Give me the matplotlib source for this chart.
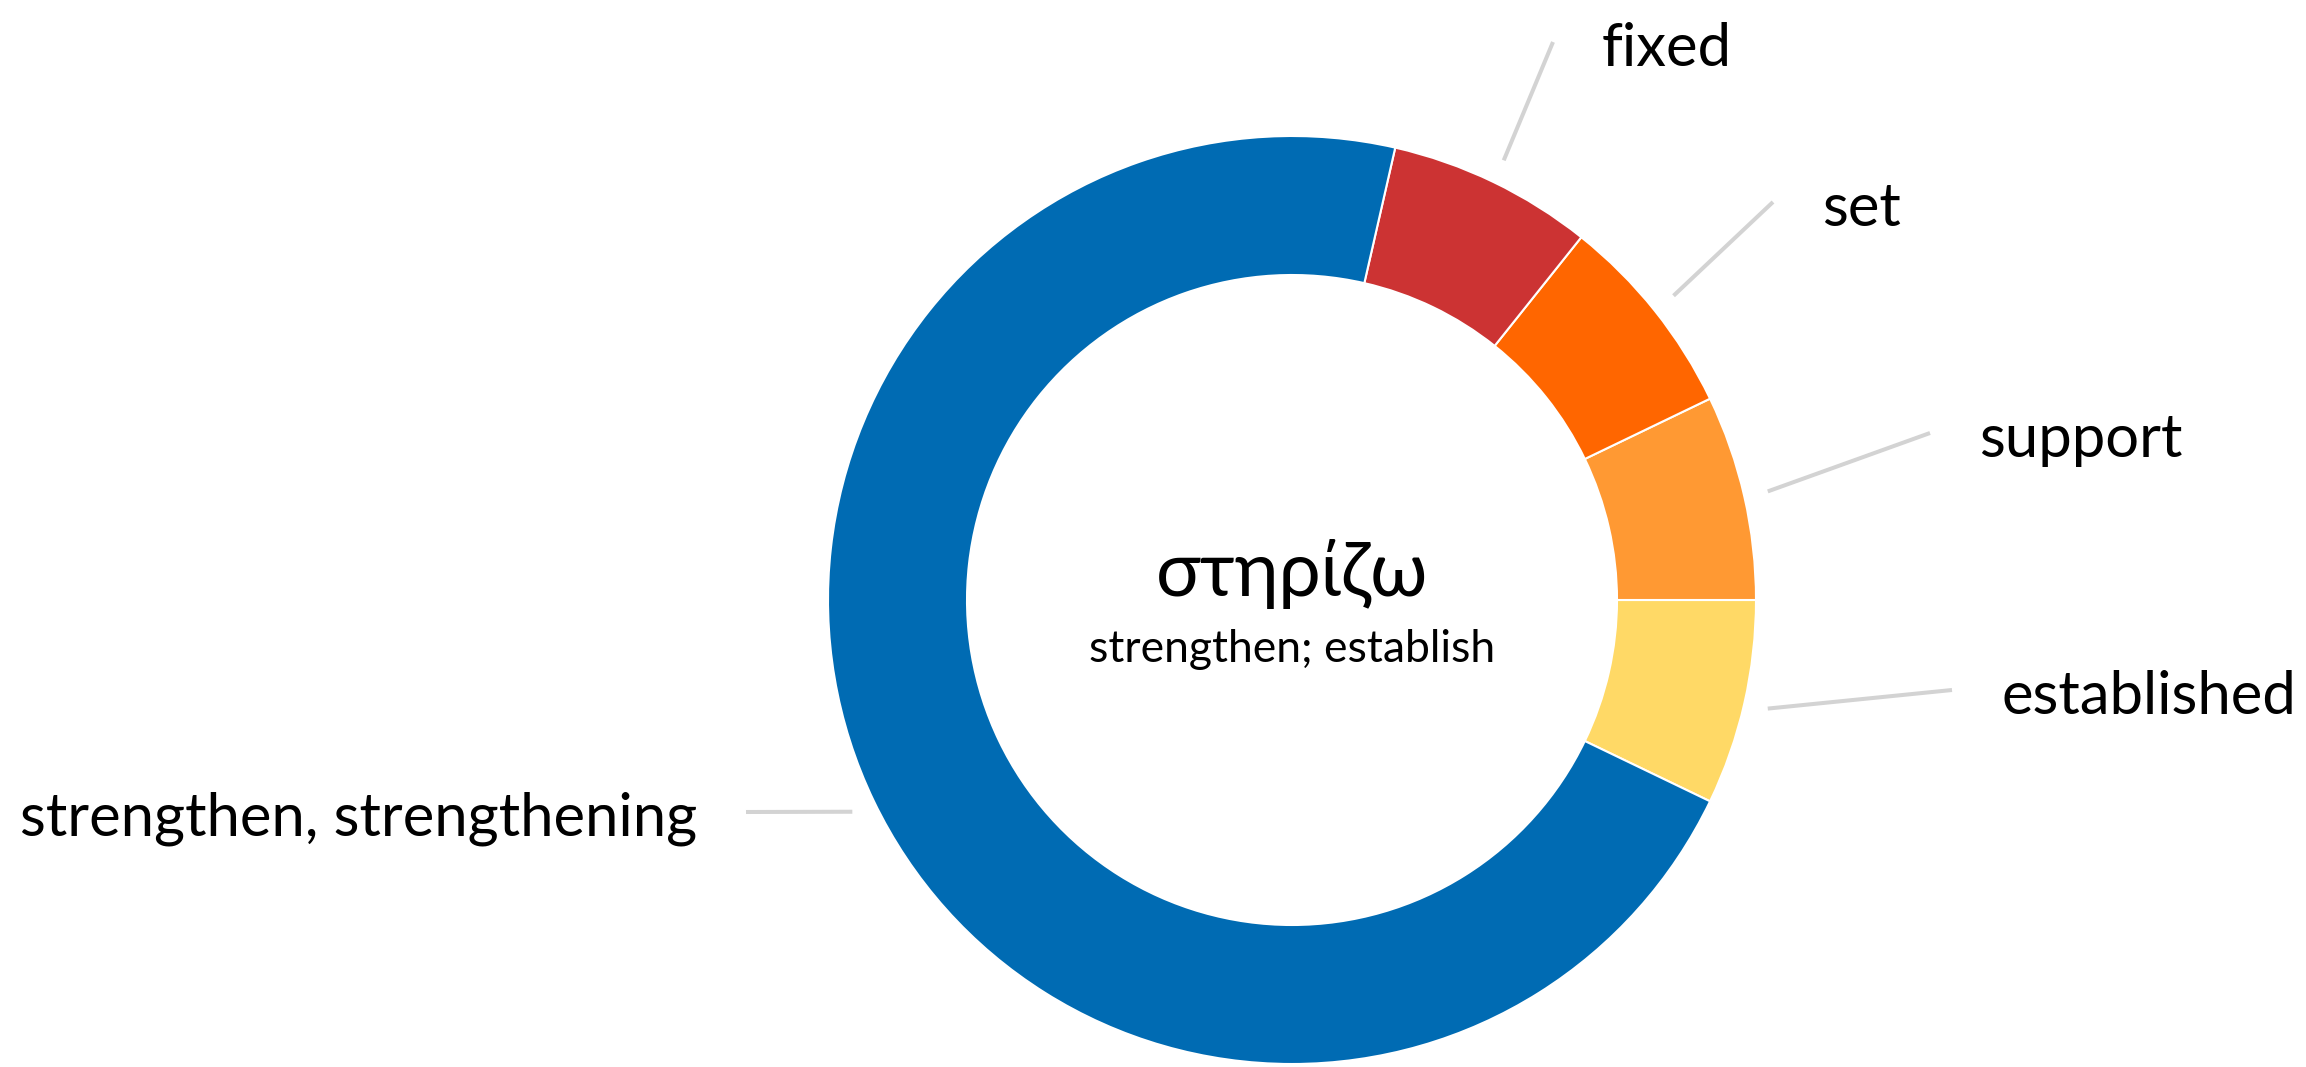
import numpy as np
import matplotlib
matplotlib.use("Agg")
import matplotlib.pyplot as plt

plt.rcParams['font.family'] = ['Lato', 'Noto Sans', 'DejaVu Sans']

# data (counts of each gloss)
labels = ['established', 'support', 'set', 'fixed', 'strengthen, strengthening']
counts = [1, 1, 1, 1, 10]
colors = ['#ffd966', '#ff9933', '#ff6600', '#cc3333', '#006bb3']
word = 'στηρίζω'
gloss = 'strengthen; establish'

# layout, in pixels (y measured from top)
W, H = 2306, 1067
cx, cy = 1292, 600
R, ring = 464, 139
# end of each connector, next to its label
label_ends = {'established': (1952, 690), 'support': (1930, 433), 'set': (1773, 202),
              'fixed': (1553, 42), 'strengthen, strengthening': (746, 812)}

fig = plt.figure(figsize=(W / 100, H / 100), dpi=100)
ax = fig.add_axes([0, 0, 1, 1])
start = -360.0 * counts[0] / sum(counts)
wedges, _ = ax.pie(counts, colors=colors, startangle=start, radius=R, center=(cx, H - cy),
                   wedgeprops=dict(width=ring, edgecolor='white', linewidth=1.5))
ax.set_xlim(0, W)
ax.set_ylim(0, H)
ax.axis('off')

for w, lab in zip(wedges, labels):
    mid = np.deg2rad((w.theta1 + w.theta2) / 2)
    x0 = cx + (R + 24) * np.cos(mid)
    y0 = (H - cy) + (R + 24) * np.sin(mid)
    ex, ey = label_ends[lab]
    ey = H - ey
    ax.plot([x0, ex], [y0, ey], color='#d3d3d3', lw=2.9, solid_capstyle='butt')
    if ex > cx:
        ax.text(ex + 49, ey - 24, lab, ha='left', va='baseline', fontsize=43, color='black')
    else:
        ax.text(ex - 49, ey - 24, lab, ha='right', va='baseline', fontsize=43, color='black')

ax.text(cx, H - 596, word, ha='center', va='baseline', fontsize=54, color='black')
ax.text(cx, H - 662, gloss, ha='center', va='baseline', fontsize=32, color='black')

fig.savefig('out.png', dpi=100, facecolor='white')
